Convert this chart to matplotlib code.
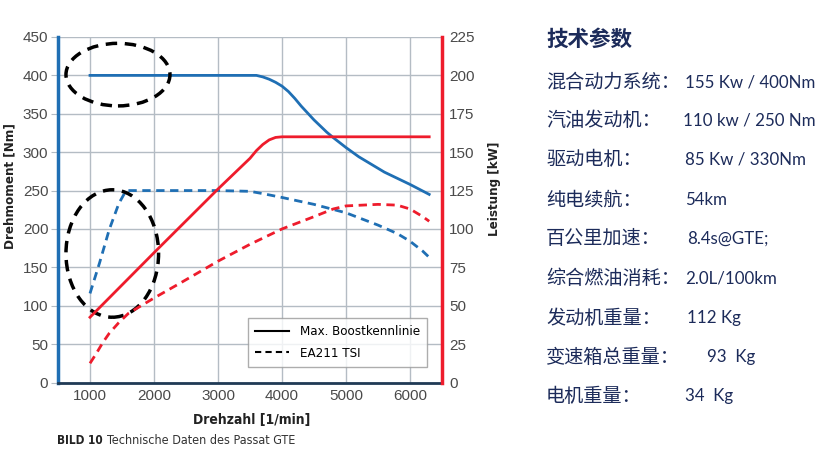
import matplotlib.pyplot as plt
from matplotlib.patches import Ellipse
from matplotlib.lines import Line2D

# max. boost torque [Nm]
boost_rpm = [1000, 3500, 3600, 3700, 3800, 3900, 4000, 4100, 4200, 4300, 4400, 4500,
             4600, 4700, 4800, 5000, 5200, 5400, 5600, 5800, 6000, 6300]
boost_nm = [400, 400, 400, 398, 395, 391, 386, 379, 370, 360, 351, 342,
            334, 326, 319, 306, 294, 284, 274, 266, 258, 245]

# max. boost power [kW]
boostp_rpm = [1000, 2000, 3000, 3500, 3600, 3700, 3800, 3900, 4000, 6300]
boostp_kw = [42.5, 84.5, 126, 146, 151, 155, 158, 159.6, 160, 160]

# EA211 TSI torque [Nm]
tsi_rpm = [1000, 1150, 1300, 1450, 1550, 1600, 2000, 3000, 3500, 3700, 4000, 4500,
           5000, 5500, 5800, 6000, 6200, 6300]
tsi_nm = [116, 156, 199, 233, 248, 250, 250, 250, 249, 246, 241, 232,
          221, 205, 194, 184, 171, 163]

# EA211 TSI power [kW]
tsip_rpm = [1000, 1100, 1200, 1300, 1450, 1600, 1800, 2000, 2400, 3000, 3500,
            4000, 4500, 4800, 5000, 5500, 5800, 6000, 6200, 6300]
tsip_kw = [12.5, 19, 26, 32, 39, 45, 50, 55, 64.5, 79, 90,
           100, 108, 113, 115, 116, 115.5, 113, 108, 105]

params = ["混合动力系统：", "汽油发动机：", "驱动电机：", "纯电续航：", "百公里加速：",
          "综合燃油消耗：", "发动机重量：", "变速箱总重量：", "电机重量："]
values = ["155 Kw / 400Nm", "110 kw / 250 Nm", "85 Kw / 330Nm", "54km", "8.4s@GTE;",
          "2.0L/100km", "112 Kg", "93  Kg", "34  Kg"]

BLUE = '#1f6fb4'
RED = '#ee1c2c'
NAVY = '#1c2b5a'
GRID = '#b4bcc4'
cond = dict(family='DejaVu Sans', stretch='condensed')

fig = plt.figure(figsize=(8.2, 4.57), dpi=100)
W, H = 820, 457
ax = fig.add_axes([58 / W, 1 - 382.5 / H, 384 / W, 345.5 / H])
ax2 = ax.twinx()

ax.plot(boost_rpm, boost_nm, color=BLUE, lw=2)
ax.plot(tsi_rpm, tsi_nm, color=BLUE, lw=2, ls=(0, (3, 2)))
ax2.plot(boostp_rpm, boostp_kw, color=RED, lw=2)
ax2.plot(tsip_rpm, tsip_kw, color=RED, lw=2, ls=(0, (3, 2)))

ax.set_xlim(500, 6500)
ax.set_ylim(0, 450)
ax2.set_ylim(0, 225)
ax.set_xticks(range(1000, 7000, 1000))
ax.set_yticks(range(0, 451, 50))
ax2.set_yticks(range(0, 226, 25))
ax.grid(True, color=GRID, lw=1)
ax.set_axisbelow(True)

for a in (ax, ax2):
    a.spines['top'].set_visible(False)
    a.tick_params(labelsize=11, labelcolor='#4a4a4a', color=GRID)
    for t in a.get_xticklabels() + a.get_yticklabels():
        t.set_family('Liberation Sans')
ax.spines['left'].set_color(BLUE)
ax.spines['left'].set_linewidth(2.5)
ax2.spines['right'].set_color(RED)
ax2.spines['right'].set_linewidth(2.5)
ax.spines['bottom'].set_color('#203a55')
ax.spines['bottom'].set_linewidth(2)
ax2.spines['left'].set_visible(False)
ax2.spines['bottom'].set_visible(False)
ax.tick_params(axis='x', length=0, pad=5)
ax.tick_params(axis='y', length=5, pad=2)
ax2.tick_params(axis='y', length=0, pad=5)

# highlighted regions
ax.add_patch(Ellipse((1437, 401), 1625, 81.5, fill=False, ec='black', lw=2.5,
                     ls=(0, (3.3, 2.2)), zorder=5))
ax.add_patch(Ellipse((1348, 168), 1447, 166, fill=False, ec='black', lw=2.5,
                     ls=(0, (3.3, 2.2)), zorder=5))

handles = [Line2D([], [], color='black', lw=1.5),
           Line2D([], [], color='black', lw=1.5, ls=(0, (3, 2)))]
leg = ax2.legend(handles, ['Max. Boostkennlinie', 'EA211 TSI'], loc='lower right',
                 bbox_to_anchor=(0.962, 0.044), borderaxespad=0, fancybox=False,
                 edgecolor='#999999', prop=dict(size=9.5, **cond), handlelength=2.6,
                 borderpad=0.55, labelspacing=0.65)
leg.get_frame().set_linewidth(1)

fig.text(10 / W, 1 - 186 / H, 'Drehmoment [Nm]', rotation=90, ha='center', va='center',
         weight='bold', fontsize=9.5, color='#222222', **cond)
fig.text(495 / W, 1 - 189 / H, 'Leistung [kW]', rotation=90, ha='center', va='center',
         weight='bold', fontsize=9.5, color='#222222', **cond)
fig.text(252 / W, 1 - 420 / H, 'Drehzahl [1/min]', ha='center', va='center',
         weight='bold', fontsize=10, color='#222222', **cond)
t1 = fig.text(57 / W, 1 - 440 / H, 'BILD 10', ha='left', va='center',
              weight='bold', fontsize=8.5, color='#222222', **cond)
plt.annotate('Technische Daten des Passat GTE', xy=(1, 0), xycoords=t1,
             xytext=(3, 0), textcoords='offset points', ha='left', va='bottom',
             fontsize=9, color='#333333', **cond)

# parameter panel
cjk = ['Noto Sans CJK SC', 'DejaVu Sans']
fig.text(546 / W, 1 - 39 / H, '技术参数', ha='left', va='center', family=cjk,
         weight='bold', fontsize=15.5, color=NAVY)
row_y = [82, 120, 159, 200, 239, 278, 318, 357, 396]
val_x = [685, 683, 685, 685, 687, 685, 687, 707, 685]
for p, v, y, x in zip(params, values, row_y, val_x):
    fig.text(546 / W, 1 - y / H, p, ha='left', va='center', family=cjk,
             fontsize=13.8, color=NAVY)
    fig.text(x / W, 1 - y / H, v, ha='left', va='center', family=['Lato', 'DejaVu Sans'],
             fontsize=12.2, color=NAVY)

fig.savefig('out.png', dpi=100)
